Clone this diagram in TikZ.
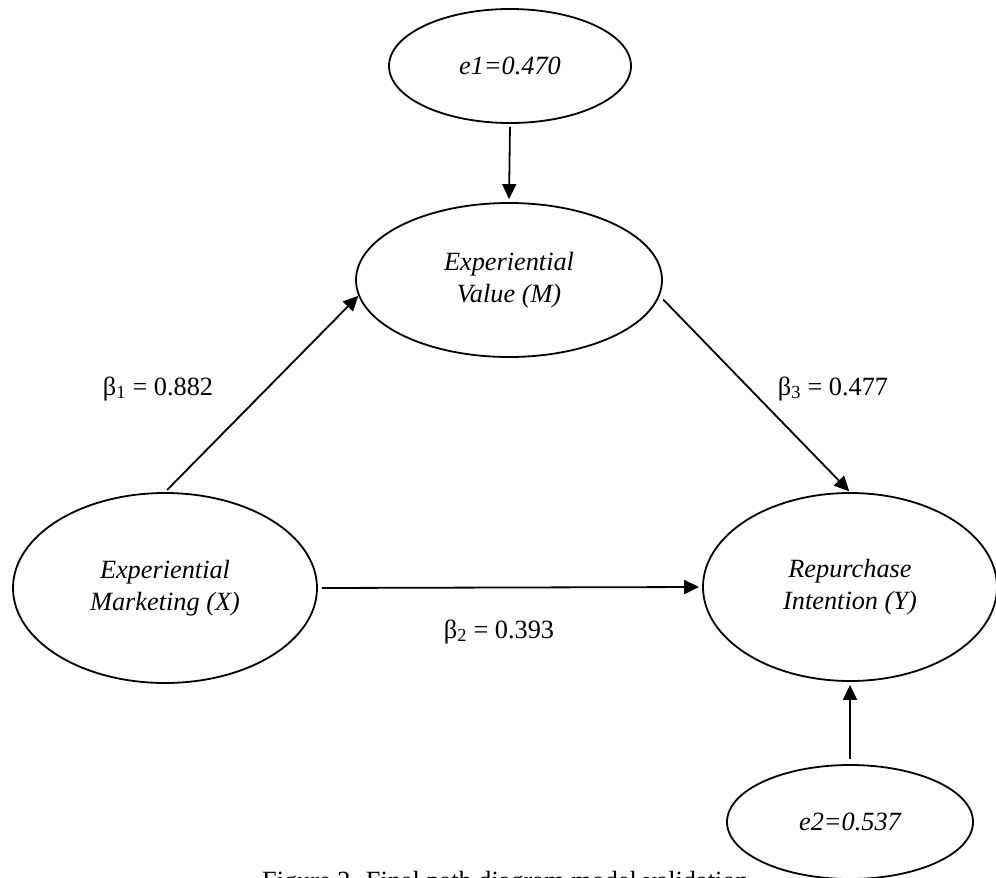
\documentclass[tikz,border=0pt]{standalone}
\usepackage{fontspec}
\setmainfont{Liberation Serif}
\usetikzlibrary{shapes.geometric,arrows.meta}
\tikzset{
  latent/.style={draw, ellipse, line width=1.8pt, inner sep=0pt, align=center,
    font=\fontsize{26.3}{32}\selectfont\itshape},
  path/.style={line width=1.8pt, -{Triangle[length=15pt,width=14pt]}},
  coef/.style={anchor=base, inner sep=0pt, font=\fontsize{26.3}{31.5}\selectfont}
}
\begin{document}
\begin{tikzpicture}[x=1pt,y=-1pt]
\useasboundingbox (0,0) rectangle (996,878);
\node[latent, minimum width=242pt, minimum height=114pt] (e1) at (510,66) {e1=0.470};
\node[latent, minimum width=306pt, minimum height=154pt] (M) at (509,280) {Experiential\\Value (M)};
\node[latent, minimum width=304pt, minimum height=190pt] (X) at (165,588) {Experiential\\Marketing (X)};
\node[latent, minimum width=294pt, minimum height=188pt] (Y) at (850,587) {Repurchase\\Intention (Y)};
\node[latent, minimum width=246pt, minimum height=114pt] (e2) at (850,822) {e2=0.537};

\draw[path, shorten <=3pt, shorten >=3pt] (e1.south) -- (M.north);
\draw[path, shorten <=3pt] (X.north) -- (M.186);
\draw[path, shorten <=5pt, shorten >=1pt] (M.354) -- (Y.north);
\draw[path, shorten <=4pt, shorten >=3pt] (X.east) -- (Y.west);
\draw[path, shorten <=5pt, shorten >=3pt] (e2.north) -- (Y.south);

\node[coef] (b1) at (158,395) {β\textsubscript{1} = 0.882};
\node[coef] (b3) at (833,395) {β\textsubscript{3} = 0.477};
\node[coef] (b2) at (499,638) {β\textsubscript{2} = 0.393};

\node[anchor=base west, inner sep=0pt, font=\fontsize{26.3}{31.5}\selectfont] (cap) at (262,889) {Figure 2. Final path diagram model validation};
\end{tikzpicture}
\end{document}
